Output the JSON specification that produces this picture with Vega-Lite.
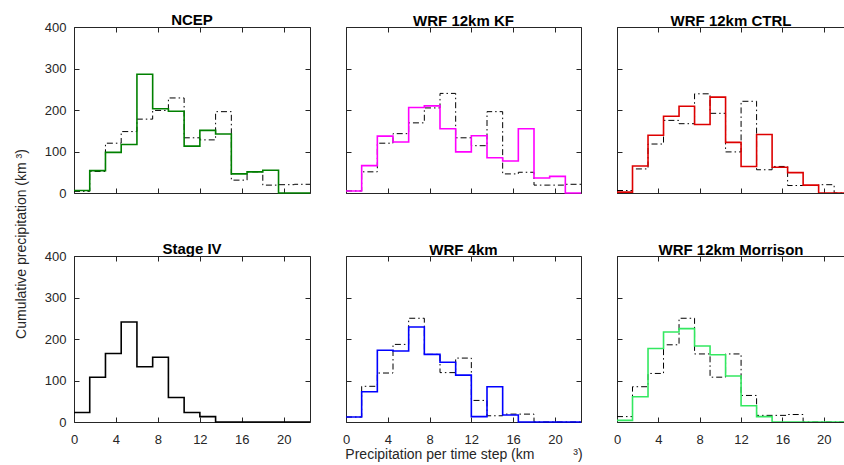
{
  "$schema": "https://vega.github.io/schema/vega-lite/v6.json",
  "background": "white",
  "padding": {"left": 14, "top": 12, "right": 0, "bottom": 0},
  "title": {"text": "Cumulative precipitation (km ³)", "orient": "left", "anchor": "middle", "fontSize": 14, "fontWeight": "normal", "color": "#262626", "font": "Liberation Sans", "offset": 15, "dx": -7},
  "data": {"values": [
    {"p":"NCEP","s":"m","x":0,"v":6},{"p":"NCEP","s":"m","x":1.5,"v":54},{"p":"NCEP","s":"m","x":3,"v":98},{"p":"NCEP","s":"m","x":4.5,"v":117},{"p":"NCEP","s":"m","x":6,"v":286},{"p":"NCEP","s":"m","x":7.5,"v":203},{"p":"NCEP","s":"m","x":9,"v":197},{"p":"NCEP","s":"m","x":10.5,"v":113},{"p":"NCEP","s":"m","x":12,"v":151},{"p":"NCEP","s":"m","x":13.5,"v":142},{"p":"NCEP","s":"m","x":15,"v":46},{"p":"NCEP","s":"m","x":16.5,"v":51},{"p":"NCEP","s":"m","x":18,"v":55},{"p":"NCEP","s":"m","x":19.5,"v":0},{"p":"NCEP","s":"m","x":21,"v":0},{"p":"NCEP","s":"m","x":22.5,"v":0},
    {"p":"NCEP","s":"r","x":0,"v":4},{"p":"NCEP","s":"r","x":1.5,"v":52},{"p":"NCEP","s":"r","x":3,"v":120},{"p":"NCEP","s":"r","x":4.5,"v":148},{"p":"NCEP","s":"r","x":6,"v":178},{"p":"NCEP","s":"r","x":7.5,"v":199},{"p":"NCEP","s":"r","x":9,"v":229},{"p":"NCEP","s":"r","x":10.5,"v":133},{"p":"NCEP","s":"r","x":12,"v":128},{"p":"NCEP","s":"r","x":13.5,"v":196},{"p":"NCEP","s":"r","x":15,"v":31},{"p":"NCEP","s":"r","x":16.5,"v":51},{"p":"NCEP","s":"r","x":18,"v":19},{"p":"NCEP","s":"r","x":19.5,"v":20},{"p":"NCEP","s":"r","x":21,"v":21},{"p":"NCEP","s":"r","x":22.5,"v":21},
    {"p":"KF","s":"m","x":0,"v":5},{"p":"KF","s":"m","x":1.5,"v":66},{"p":"KF","s":"m","x":3,"v":137},{"p":"KF","s":"m","x":4.5,"v":123},{"p":"KF","s":"m","x":6,"v":206},{"p":"KF","s":"m","x":7.5,"v":210},{"p":"KF","s":"m","x":9,"v":155},{"p":"KF","s":"m","x":10.5,"v":99},{"p":"KF","s":"m","x":12,"v":138},{"p":"KF","s":"m","x":13.5,"v":85},{"p":"KF","s":"m","x":15,"v":77},{"p":"KF","s":"m","x":16.5,"v":155},{"p":"KF","s":"m","x":18,"v":36},{"p":"KF","s":"m","x":19.5,"v":40},{"p":"KF","s":"m","x":21,"v":0},{"p":"KF","s":"m","x":22.5,"v":0},
    {"p":"KF","s":"r","x":0,"v":5},{"p":"KF","s":"r","x":1.5,"v":51},{"p":"KF","s":"r","x":3,"v":120},{"p":"KF","s":"r","x":4.5,"v":143},{"p":"KF","s":"r","x":6,"v":169},{"p":"KF","s":"r","x":7.5,"v":205},{"p":"KF","s":"r","x":9,"v":240},{"p":"KF","s":"r","x":10.5,"v":133},{"p":"KF","s":"r","x":12,"v":114},{"p":"KF","s":"r","x":13.5,"v":196},{"p":"KF","s":"r","x":15,"v":46},{"p":"KF","s":"r","x":16.5,"v":50},{"p":"KF","s":"r","x":18,"v":19},{"p":"KF","s":"r","x":19.5,"v":19},{"p":"KF","s":"r","x":21,"v":21},{"p":"KF","s":"r","x":22.5,"v":21},
    {"p":"CTRL","s":"m","x":0,"v":2},{"p":"CTRL","s":"m","x":1.5,"v":65},{"p":"CTRL","s":"m","x":3,"v":139},{"p":"CTRL","s":"m","x":4.5,"v":185},{"p":"CTRL","s":"m","x":6,"v":209},{"p":"CTRL","s":"m","x":7.5,"v":165},{"p":"CTRL","s":"m","x":9,"v":231},{"p":"CTRL","s":"m","x":10.5,"v":122},{"p":"CTRL","s":"m","x":12,"v":64},{"p":"CTRL","s":"m","x":13.5,"v":141},{"p":"CTRL","s":"m","x":15,"v":62},{"p":"CTRL","s":"m","x":16.5,"v":49},{"p":"CTRL","s":"m","x":18,"v":19},{"p":"CTRL","s":"m","x":19.5,"v":0},{"p":"CTRL","s":"m","x":21,"v":0},{"p":"CTRL","s":"m","x":22.5,"v":0},
    {"p":"CTRL","s":"r","x":0,"v":6},{"p":"CTRL","s":"r","x":1.5,"v":58},{"p":"CTRL","s":"r","x":3,"v":118},{"p":"CTRL","s":"r","x":4.5,"v":175},{"p":"CTRL","s":"r","x":6,"v":167},{"p":"CTRL","s":"r","x":7.5,"v":239},{"p":"CTRL","s":"r","x":9,"v":192},{"p":"CTRL","s":"r","x":10.5,"v":99},{"p":"CTRL","s":"r","x":12,"v":221},{"p":"CTRL","s":"r","x":13.5,"v":56},{"p":"CTRL","s":"r","x":15,"v":64},{"p":"CTRL","s":"r","x":16.5,"v":18},{"p":"CTRL","s":"r","x":18,"v":18},{"p":"CTRL","s":"r","x":19.5,"v":20},{"p":"CTRL","s":"r","x":21,"v":0},{"p":"CTRL","s":"r","x":22.5,"v":0},
    {"p":"S4","s":"m","x":0,"v":23},{"p":"S4","s":"m","x":1.5,"v":108},{"p":"S4","s":"m","x":3,"v":165},{"p":"S4","s":"m","x":4.5,"v":241},{"p":"S4","s":"m","x":6,"v":133},{"p":"S4","s":"m","x":7.5,"v":156},{"p":"S4","s":"m","x":9,"v":59},{"p":"S4","s":"m","x":10.5,"v":23},{"p":"S4","s":"m","x":12,"v":13},{"p":"S4","s":"m","x":13.5,"v":0},{"p":"S4","s":"m","x":15,"v":0},{"p":"S4","s":"m","x":16.5,"v":0},{"p":"S4","s":"m","x":18,"v":0},{"p":"S4","s":"m","x":19.5,"v":0},{"p":"S4","s":"m","x":21,"v":0},{"p":"S4","s":"m","x":22.5,"v":0},
    {"p":"4km","s":"m","x":0,"v":12},{"p":"4km","s":"m","x":1.5,"v":73},{"p":"4km","s":"m","x":3,"v":173},{"p":"4km","s":"m","x":4.5,"v":171},{"p":"4km","s":"m","x":6,"v":229},{"p":"4km","s":"m","x":7.5,"v":163},{"p":"4km","s":"m","x":9,"v":144},{"p":"4km","s":"m","x":10.5,"v":113},{"p":"4km","s":"m","x":12,"v":13},{"p":"4km","s":"m","x":13.5,"v":85},{"p":"4km","s":"m","x":15,"v":17},{"p":"4km","s":"m","x":16.5,"v":0},{"p":"4km","s":"m","x":18,"v":0},{"p":"4km","s":"m","x":19.5,"v":0},{"p":"4km","s":"m","x":21,"v":0},{"p":"4km","s":"m","x":22.5,"v":0},
    {"p":"4km","s":"r","x":0,"v":12},{"p":"4km","s":"r","x":1.5,"v":86},{"p":"4km","s":"r","x":3,"v":118},{"p":"4km","s":"r","x":4.5,"v":187},{"p":"4km","s":"r","x":6,"v":250},{"p":"4km","s":"r","x":7.5,"v":163},{"p":"4km","s":"r","x":9,"v":119},{"p":"4km","s":"r","x":10.5,"v":154},{"p":"4km","s":"r","x":12,"v":52},{"p":"4km","s":"r","x":13.5,"v":15},{"p":"4km","s":"r","x":15,"v":19},{"p":"4km","s":"r","x":16.5,"v":19},{"p":"4km","s":"r","x":18,"v":0},{"p":"4km","s":"r","x":19.5,"v":0},{"p":"4km","s":"r","x":21,"v":0},{"p":"4km","s":"r","x":22.5,"v":0},
    {"p":"MOR","s":"m","x":0,"v":4},{"p":"MOR","s":"m","x":1.5,"v":61},{"p":"MOR","s":"m","x":3,"v":177},{"p":"MOR","s":"m","x":4.5,"v":217},{"p":"MOR","s":"m","x":6,"v":225},{"p":"MOR","s":"m","x":7.5,"v":183},{"p":"MOR","s":"m","x":9,"v":162},{"p":"MOR","s":"m","x":10.5,"v":111},{"p":"MOR","s":"m","x":12,"v":39},{"p":"MOR","s":"m","x":13.5,"v":13},{"p":"MOR","s":"m","x":15,"v":0},{"p":"MOR","s":"m","x":16.5,"v":0},{"p":"MOR","s":"m","x":18,"v":0},{"p":"MOR","s":"m","x":19.5,"v":0},{"p":"MOR","s":"m","x":21,"v":0},{"p":"MOR","s":"m","x":22.5,"v":0},
    {"p":"MOR","s":"r","x":0,"v":13},{"p":"MOR","s":"r","x":1.5,"v":85},{"p":"MOR","s":"r","x":3,"v":117},{"p":"MOR","s":"r","x":4.5,"v":186},{"p":"MOR","s":"r","x":6,"v":250},{"p":"MOR","s":"r","x":7.5,"v":164},{"p":"MOR","s":"r","x":9,"v":108},{"p":"MOR","s":"r","x":10.5,"v":164},{"p":"MOR","s":"r","x":12,"v":64},{"p":"MOR","s":"r","x":13.5,"v":16},{"p":"MOR","s":"r","x":15,"v":16},{"p":"MOR","s":"r","x":16.5,"v":18},{"p":"MOR","s":"r","x":18,"v":0},{"p":"MOR","s":"r","x":19.5,"v":0},{"p":"MOR","s":"r","x":21,"v":0},{"p":"MOR","s":"r","x":22.5,"v":0}
  ]},
  "columns": 3,
  "spacing": {"row": 63, "column": 36},
  "bounds": "flush",
  "concat": [
    {
      "width": 236, "height": 166, "title": {"text": "NCEP", "offset": -7},
      "transform": [{"filter": "datum.p == 'NCEP'"}],
      "resolve": {"axis": {"x": "independent", "y": "independent"}},
      "layer": [
        {"transform": [{"filter": "datum.s == 'r'"}],
         "mark": {"type": "line", "interpolate": "step-after", "color": "#000000", "strokeWidth": 1, "strokeDash": [6, 3, 1.5, 3]},
         "encoding": {
           "x": {"field": "x", "type": "quantitative", "scale": {"domain": [0, 22.5], "nice": false, "zero": false}, "axis": {"orient": "bottom", "values": [0, 4, 8, 12, 16, 20], "labels": false, "title": null}},
           "y": {"field": "v", "type": "quantitative", "scale": {"domain": [0, 400], "nice": false}, "axis": {"orient": "left", "values": [0, 100, 200, 300, 400], "title": null}}}},
        {"transform": [{"filter": "datum.s == 'm'"}],
         "mark": {"type": "line", "interpolate": "step-after", "color": "#008000", "strokeWidth": 1.6},
         "encoding": {
           "x": {"field": "x", "type": "quantitative", "axis": {"orient": "top", "values": [0, 4, 8, 12, 16, 20], "labels": false, "title": null}},
           "y": {"field": "v", "type": "quantitative", "axis": {"orient": "right", "values": [0, 100, 200, 300, 400], "labels": false, "title": null}}}}
      ]
    },
    {
      "width": 235, "height": 166, "title": {"text": "WRF 12km KF", "offset": -2},
      "transform": [{"filter": "datum.p == 'KF'"}],
      "resolve": {"axis": {"x": "independent", "y": "independent"}},
      "layer": [
        {"transform": [{"filter": "datum.s == 'r'"}],
         "mark": {"type": "line", "interpolate": "step-after", "color": "#000000", "strokeWidth": 1, "strokeDash": [6, 3, 1.5, 3]},
         "encoding": {
           "x": {"field": "x", "type": "quantitative", "scale": {"domain": [0, 22.5], "nice": false, "zero": false}, "axis": {"orient": "bottom", "values": [0, 4, 8, 12, 16, 20], "labels": false, "title": null}},
           "y": {"field": "v", "type": "quantitative", "scale": {"domain": [0, 400], "nice": false}, "axis": {"orient": "left", "values": [0, 100, 200, 300, 400], "labels": false, "title": null}}}},
        {"transform": [{"filter": "datum.s == 'm'"}],
         "mark": {"type": "line", "interpolate": "step-after", "color": "#ff00ff", "strokeWidth": 1.6},
         "encoding": {
           "x": {"field": "x", "type": "quantitative", "axis": {"orient": "top", "values": [0, 4, 8, 12, 16, 20], "labels": false, "title": null}},
           "y": {"field": "v", "type": "quantitative", "axis": {"orient": "right", "values": [0, 100, 200, 300, 400], "labels": false, "title": null}}}}
      ]
    },
    {
      "width": 228, "height": 166, "title": {"text": "WRF 12km CTRL", "offset": -2},
      "transform": [{"filter": "datum.p == 'CTRL'"}],
      "resolve": {"axis": {"x": "independent", "y": "independent"}},
      "layer": [
        {"transform": [{"filter": "datum.s == 'r'"}],
         "mark": {"type": "line", "interpolate": "step-after", "color": "#000000", "strokeWidth": 1, "strokeDash": [6, 3, 1.5, 3], "clip": true},
         "encoding": {
           "x": {"field": "x", "type": "quantitative", "scale": {"domain": [0, 22.05], "nice": false, "zero": false}, "axis": {"orient": "bottom", "values": [0, 4, 8, 12, 16, 20], "labels": false, "title": null}},
           "y": {"field": "v", "type": "quantitative", "scale": {"domain": [0, 400], "nice": false}, "axis": {"orient": "left", "values": [0, 100, 200, 300, 400], "labels": false, "title": null}}}},
        {"transform": [{"filter": "datum.s == 'm'"}],
         "mark": {"type": "line", "interpolate": "step-after", "color": "#dd0000", "strokeWidth": 1.6, "clip": true},
         "encoding": {
           "x": {"field": "x", "type": "quantitative", "axis": {"orient": "top", "values": [0, 4, 8, 12, 16, 20], "labels": false, "title": null}},
           "y": {"field": "v", "type": "quantitative", "axis": null}}}
      ]
    },
    {
      "width": 236, "height": 166, "title": {"text": "Stage IV", "offset": -7},
      "transform": [{"filter": "datum.p == 'S4'"}],
      "resolve": {"axis": {"x": "independent", "y": "independent"}},
      "layer": [
        {"mark": {"type": "line", "interpolate": "step-after", "color": "#000000", "strokeWidth": 1.6},
         "encoding": {
           "x": {"field": "x", "type": "quantitative", "scale": {"domain": [0, 22.5], "nice": false, "zero": false}, "axis": {"orient": "bottom", "values": [0, 4, 8, 12, 16, 20], "title": null}},
           "y": {"field": "v", "type": "quantitative", "scale": {"domain": [0, 400], "nice": false}, "axis": {"orient": "left", "values": [0, 100, 200, 300, 400], "title": null}}}},
        {"mark": {"type": "line", "interpolate": "step-after", "color": "#000000", "strokeWidth": 1.6, "strokeOpacity": 0},
         "encoding": {
           "x": {"field": "x", "type": "quantitative", "axis": {"orient": "top", "values": [0, 4, 8, 12, 16, 20], "labels": false, "title": null}},
           "y": {"field": "v", "type": "quantitative", "axis": {"orient": "right", "values": [0, 100, 200, 300, 400], "labels": false, "title": null}}}}
      ]
    },
    {
      "width": 235, "height": 166, "title": {"text": "WRF 4km", "offset": -2},
      "transform": [{"filter": "datum.p == '4km'"}],
      "resolve": {"axis": {"x": "independent", "y": "independent"}},
      "layer": [
        {"transform": [{"filter": "datum.s == 'r'"}],
         "mark": {"type": "line", "interpolate": "step-after", "color": "#000000", "strokeWidth": 1, "strokeDash": [6, 3, 1.5, 3]},
         "encoding": {
           "x": {"field": "x", "type": "quantitative", "scale": {"domain": [0, 22.5], "nice": false, "zero": false}, "axis": {"orient": "bottom", "values": [0, 4, 8, 12, 16, 20], "title": "Precipitation per time step (km\u00a0\u00a0\u00a0\u00a0\u00a0\u00a0\u00a0\u00a0\u00a0\u00a0³)", "titlePadding": 1}},
           "y": {"field": "v", "type": "quantitative", "scale": {"domain": [0, 400], "nice": false}, "axis": {"orient": "left", "values": [0, 100, 200, 300, 400], "labels": false, "title": null}}}},
        {"transform": [{"filter": "datum.s == 'm'"}],
         "mark": {"type": "line", "interpolate": "step-after", "color": "#0000ff", "strokeWidth": 1.6},
         "encoding": {
           "x": {"field": "x", "type": "quantitative", "axis": {"orient": "top", "values": [0, 4, 8, 12, 16, 20], "labels": false, "title": null}},
           "y": {"field": "v", "type": "quantitative", "axis": {"orient": "right", "values": [0, 100, 200, 300, 400], "labels": false, "title": null}}}}
      ]
    },
    {
      "width": 228, "height": 166, "title": {"text": "WRF 12km Morrison", "offset": -2},
      "transform": [{"filter": "datum.p == 'MOR'"}],
      "resolve": {"axis": {"x": "independent", "y": "independent"}},
      "layer": [
        {"transform": [{"filter": "datum.s == 'r'"}],
         "mark": {"type": "line", "interpolate": "step-after", "color": "#000000", "strokeWidth": 1, "strokeDash": [6, 3, 1.5, 3], "clip": true},
         "encoding": {
           "x": {"field": "x", "type": "quantitative", "scale": {"domain": [0, 22.05], "nice": false, "zero": false}, "axis": {"orient": "bottom", "values": [0, 4, 8, 12, 16, 20], "title": null}},
           "y": {"field": "v", "type": "quantitative", "scale": {"domain": [0, 400], "nice": false}, "axis": {"orient": "left", "values": [0, 100, 200, 300, 400], "labels": false, "title": null}}}},
        {"transform": [{"filter": "datum.s == 'm'"}],
         "mark": {"type": "line", "interpolate": "step-after", "color": "#33e860", "strokeWidth": 1.6, "clip": true},
         "encoding": {
           "x": {"field": "x", "type": "quantitative", "axis": {"orient": "top", "values": [0, 4, 8, 12, 16, 20], "labels": false, "title": null}},
           "y": {"field": "v", "type": "quantitative", "axis": null}}}
      ]
    }
  ],
  "config": {
    "view": {"stroke": "#262626", "strokeWidth": 1},
    "font": "Liberation Sans",
    "axis": {"grid": false, "domain": false, "offset": -5, "tickColor": "#262626", "tickWidth": 1, "tickSize": 5, "labelPadding": 8, "labelFontSize": 13, "labelColor": "#262626", "labelFlush": false, "labelFont": "Liberation Sans", "titleFont": "Liberation Sans", "titleFontWeight": "normal", "titleFontSize": 14, "titleColor": "#262626", "labelOverlap": false},
    "axisX": {"labelPadding": 11},
    "title": {"fontSize": 15, "fontWeight": "bold", "font": "Liberation Sans", "color": "#000000", "offset": 3}
  }
}
